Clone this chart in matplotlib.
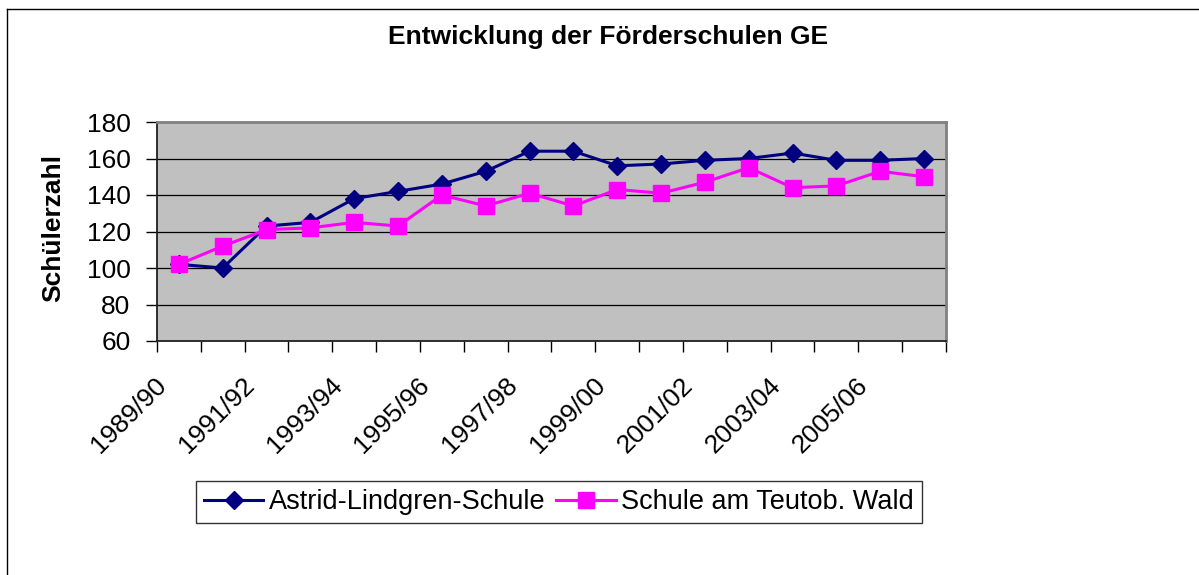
import numpy as np
import matplotlib.pyplot as plt
import matplotlib.transforms as mtransforms
from matplotlib.lines import Line2D

plt.rcParams['font.family'] = ['Liberation Sans', 'DejaVu Sans']

# Daten
jahre = ['1989/90', '1990/91', '1991/92', '1992/93', '1993/94', '1994/95',
         '1995/96', '1996/97', '1997/98', '1998/99', '1999/00', '2000/01',
         '2001/02', '2002/03', '2003/04', '2004/05', '2005/06', '2006/07']
astrid = [102, 100, 123, 125, 138, 142, 146, 153, 164, 164,
          156, 157, 159, 160, 163, 159, 159, 160]
teutob = [102, 112, 121, 122, 125, 123, 140, 134, 141, 134,
          143, 141, 147, 155, 144, 145, 153, 150]

W, H = 1199, 575
fig = plt.figure(figsize=(W / 100, H / 100), dpi=100)
fig.patch.set_facecolor('white')

# Plotbereich (Pixel: links 157, rechts 946, oben 122, unten 341)
ax = fig.add_axes([157 / W, 1 - 341 / H, 789 / W, 219 / H])
ax.set_facecolor('#C0C0C0')

x = np.arange(len(jahre)) + 0.5
ax.plot(x, astrid, color='#000080', lw=2.2, marker='D', ms=9,
        mec='#000080', mfc='#000080', label='Astrid-Lindgren-Schule', zorder=3)
ax.plot(x, teutob, color='#FF00FF', lw=2.2, marker='s', ms=11.5,
        mec='#FF00FF', mfc='#FF00FF', label='Schule am Teutob. Wald', zorder=3)

ax.set_xlim(0, len(jahre))
ax.set_ylim(60, 180)
ax.set_yticks(np.arange(60, 181, 20))
for yv in range(80, 180, 20):
    ax.axhline(yv, color='black', lw=0.9, zorder=1)

# Kategorie-Achse: Striche an den Grenzen, Beschriftung jede zweite Kategorie
ax.set_xticks(np.arange(0, len(jahre) + 1), minor=True)
ax.set_xticks(x[::2][:9])
ax.set_xticklabels(jahre[::2][:9])
ax.tick_params(axis='x', which='minor', length=8, width=1, direction='out', color='black')
ax.tick_params(axis='x', which='major', length=0, pad=29, labelsize=19)
ax.tick_params(axis='y', length=8, width=1, direction='out', pad=11, labelsize=19)

offset = mtransforms.ScaledTranslation(-16 / 100, 0, fig.dpi_scale_trans)
for lab in ax.get_xticklabels():
    lab.set_rotation(45)
    lab.set_rotation_mode('anchor')
    lab.set_ha('right')
    lab.set_va('center')
    lab.set_transform(lab.get_transform() + offset)

for s in ['top', 'right']:
    ax.spines[s].set_color('#808080')
    ax.spines[s].set_linewidth(2)
for s in ['left', 'bottom']:
    ax.spines[s].set_color('#202020')
    ax.spines[s].set_linewidth(1.3)

fig.text(608 / W, 1 - 37 / H, 'Entwicklung der Förderschulen GE',
         ha='center', va='center', fontsize=19, fontweight='bold')
fig.text(53 / W, 1 - 228 / H, 'Schülerzahl', rotation=90,
         ha='center', va='center', fontsize=19, fontweight='bold')

leg = fig.legend(loc='center', bbox_to_anchor=(559 / W, 1 - 502 / H), ncol=2,
                 fontsize=19.5, frameon=True, fancybox=False, edgecolor='black',
                 handlelength=2.2, handletextpad=0.2, columnspacing=0.4,
                 borderpad=0.3, borderaxespad=0)
leg.get_frame().set_linewidth(1)

# Rahmen des Diagrammbereichs (nur links und oben sichtbar)
fig.add_artist(Line2D([7 / W, 7 / W], [0, 1 - 9 / H], color='black', lw=1))
fig.add_artist(Line2D([7 / W, 1], [1 - 9 / H, 1 - 9 / H], color='black', lw=1))

plt.savefig('out.png', dpi=100)
